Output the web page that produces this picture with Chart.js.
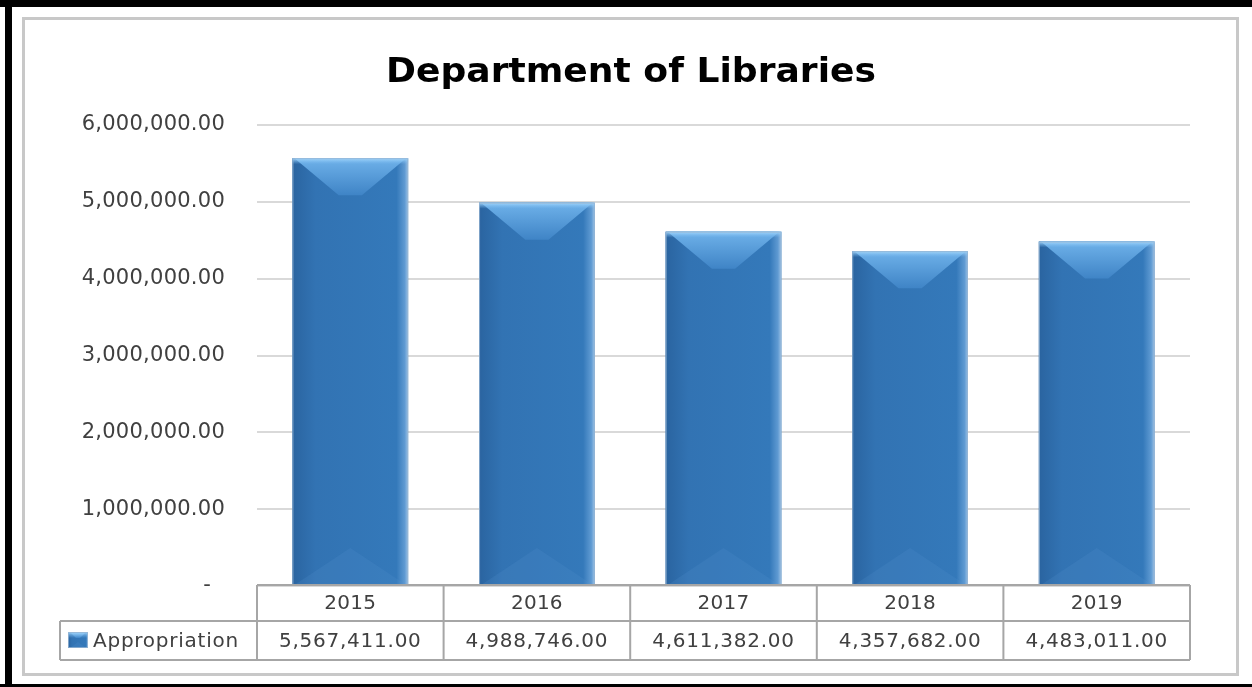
<!DOCTYPE html>
<html>
<head>
    <title>Department of Libraries</title>
    <style>
        html, body { margin: 0; padding: 0; background: #fff; }
        #chartBox { width: 1252px; height: 687px; }
    </style>
</head>
<body>
    <div id="chartBox"><canvas id="myChart"></canvas></div>
</body>
<script src="https://cdn.jsdelivr.net/npm/chart.js"></script>
<script>
    const years = ['2015', '2016', '2017', '2018', '2019'];
    const appropriation = [5567411, 4988746, 4611382, 4357682, 4483011];
    const seriesName = 'Appropriation';
    const chartTitle = 'Department of Libraries';
    const yMax = 6000000;
    const yStep = 1000000;

    const FONT = '"DejaVu Sans", Verdana, sans-serif';
    const TEXT = '#404040';
    const LINE = '#a6a6a6';

    function money(v){
        if (v === 0) return '-  ';
        return v.toLocaleString('en-US', {minimumFractionDigits: 2, maximumFractionDigits: 2});
    }

    // page frame: black edge + light grey chart border + title
    const framePlugin = {
        id: 'frame',
        beforeDraw(chart){
            const c = chart.ctx;
            c.save();
            c.letterSpacing = '0px';
            c.fillStyle = '#fff';
            c.fillRect(0, 0, chart.width, chart.height);
            c.fillStyle = '#000';
            c.fillRect(0, 0, chart.width, 7);
            c.fillRect(5, 0, 7, chart.height);
            c.fillRect(0, 684, chart.width, 3);
            c.strokeStyle = '#c8c8c8';
            c.lineWidth = 3;
            c.strokeRect(23.5, 18.5, 1214, 656);

            // title, stretched a little to the Verdana width
            c.font = 'bold 33px ' + FONT;
            c.fillStyle = '#000';
            c.textAlign = 'center';
            c.textBaseline = 'alphabetic';
            const w = c.measureText(chartTitle).width;
            c.translate(631, 82);
            c.scale(490 / w, 1);
            c.fillText(chartTitle, 0, 0);
            c.restore();
            // slightly looser tracking for the axis labels
            c.letterSpacing = '0.25px';
        }
    };

    // draws the envelope shading on each bar
    function shadeBar(c, x, top, bottom, w, depth){
        const l = x - w / 2, r = x + w / 2;
        const h = bottom - top;
        let g = c.createLinearGradient(l, 0, r, 0);
        g.addColorStop(0, '#2a64a0');
        g.addColorStop(0.2, '#3273b3');
        g.addColorStop(0.9, '#3479ba');
        g.addColorStop(0.97, '#5f9ad2');
        g.addColorStop(1, '#9cc2e6');
        c.fillStyle = g;
        c.fillRect(l, top, w, h);

        const d = Math.min(depth, h / 2);
        const inner = w * 0.1;
        // upper bevel (lighter trapezoid)
        g = c.createLinearGradient(0, top, 0, top + d);
        g.addColorStop(0, '#6fb2ea');
        g.addColorStop(1, '#3f84c6');
        c.fillStyle = g;
        c.beginPath();
        c.moveTo(l + 2, top);
        c.lineTo(r - 2, top);
        c.lineTo(x + inner, top + d);
        c.lineTo(x - inner, top + d);
        c.closePath();
        c.fill();
        // bright rim along the top
        g = c.createLinearGradient(0, top, 0, top + 6);
        g.addColorStop(0, '#a6d8fb');
        g.addColorStop(1, 'rgba(120,185,240,0)');
        c.fillStyle = g;
        c.fillRect(l, top, w, 6);

        // lower bevel: faint light wedge rising from the base
        c.fillStyle = 'rgba(90,150,210,0.18)';
        c.beginPath();
        c.moveTo(l + 2, bottom);
        c.lineTo(x, bottom - d);
        c.lineTo(r - 2, bottom);
        c.closePath();
        c.fill();

        c.strokeStyle = 'rgba(150,180,210,0.8)';
        c.lineWidth = 1;
        c.strokeRect(l + 0.5, top + 0.5, w - 1, h - 1);
    }

    const bevelPlugin = {
        id: 'bevel',
        afterDatasetsDraw(chart){
            const c = chart.ctx;
            c.save();
            chart.getDatasetMeta(0).data.forEach(bar => {
                const p = bar.getProps(['x', 'y', 'base', 'width'], true);
                shadeBar(c, p.x, p.y, p.base, p.width, 37);
            });
            c.restore();
        }
    };

    // data table under the x axis, with the legend key in front
    const tablePlugin = {
        id: 'dataTable',
        afterDraw(chart){
            const c = chart.ctx;
            const xs = chart.scales.x;
            const left = chart.chartArea.left, right = chart.chartArea.right;
            const top = chart.chartArea.bottom - 1;
            const mid = 621, bot = 660, keyLeft = 60;
            const colW = (right - left) / years.length;
            c.save();
            c.strokeStyle = LINE;
            c.lineWidth = 2;
            c.beginPath();
            c.moveTo(left, top); c.lineTo(right, top);
            c.moveTo(keyLeft, mid); c.lineTo(right, mid);
            c.moveTo(keyLeft, bot); c.lineTo(right, bot);
            for (let i = 0; i <= years.length; i++){
                const x = left + i * colW;
                c.moveTo(x, top); c.lineTo(x, bot);
            }
            c.moveTo(keyLeft, mid); c.lineTo(keyLeft, bot);
            c.stroke();

            c.fillStyle = TEXT;
            c.font = '20px ' + FONT;
            c.letterSpacing = '0.75px';
            c.textAlign = 'center';
            c.textBaseline = 'middle';
            appropriation.forEach((v, i) => {
                c.fillText(money(v), xs.getPixelForValue(i), (mid + bot) / 2 + 1);
            });

            // legend key
            shadeBar(c, 78, 632, 648, 20, 6);
            c.fillStyle = TEXT;
            c.textAlign = 'left';
            c.fillText(seriesName, 93, (mid + bot) / 2 + 1);
            c.restore();
        }
    };

    const data = {
        labels: years,
        datasets: [{
            label: seriesName,
            data: appropriation,
            backgroundColor: '#3274b5',
            borderWidth: 0,
            barPercentage: 0.62,
            categoryPercentage: 1
        }]
    };

    const config = {
        type: 'bar',
        data,
        plugins: [framePlugin, bevelPlugin, tablePlugin],
        options: {
            responsive: true,
            maintainAspectRatio: false,
            animation: false,
            events: [],
            layout: { padding: { left: 23, right: 62, top: 125, bottom: 64 } },
            plugins: {
                legend: { display: false },
                tooltip: { enabled: false },
                title: { display: false }
            },
            scales: {
                x: {
                    grid: { display: false, drawTicks: false },
                    border: { display: false },
                    ticks: { color: TEXT, font: { family: FONT, size: 20 }, padding: 6 },
                    afterFit: s => { s.height = 37; }
                },
                y: {
                    min: 0,
                    max: yMax,
                    grid: { color: '#d9d9d9', lineWidth: 2, drawTicks: false },
                    border: { display: false },
                    ticks: {
                        stepSize: yStep,
                        color: TEXT,
                        font: { family: FONT, size: 21 },
                        padding: 32,
                        callback: v => money(v)
                    },
                    afterFit: s => { s.width = 234; }
                }
            }
        }
    };

    new Chart(document.getElementById('myChart'), config);
</script>
</html>
